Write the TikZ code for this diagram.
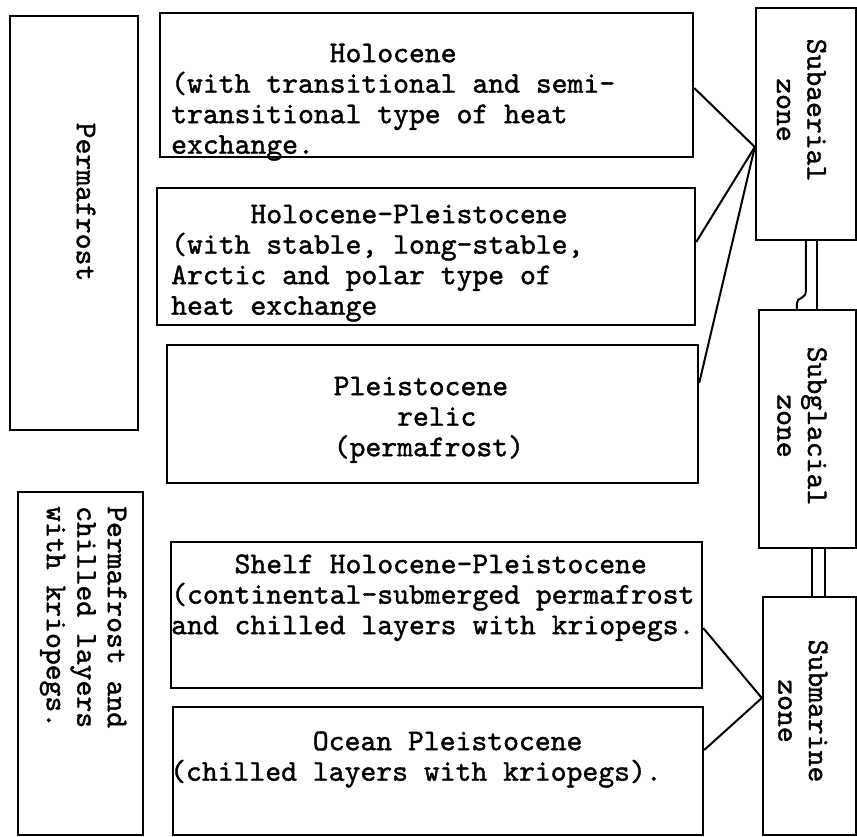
\documentclass[tikz,border=0pt]{standalone}
\usepackage{fontspec}
\newfontfamily\tw{lmmono10-regular.otf}[FakeBold=1.3]
\usetikzlibrary{calc}
\tikzset{
  box/.style={draw, line width=2.4pt, inner sep=0pt, fill=none},
  conn/.style={line width=2pt},
  txt/.style={inner sep=0pt, align=left, font=\fontsize{30.2}{30.5}\selectfont\tw},
  vtxt/.style={inner sep=0pt, rotate=-90, font=\fontsize{30.2}{30.5}\selectfont\tw},
}
\newcommand{\fl}{\rule{0pt}{24pt}}
\begin{document}
\begin{tikzpicture}[x=1pt, y=-1pt]
\useasboundingbox (0,0) rectangle (857,837);
\fill[white] (0,0) rectangle (857,837);

% left boxes
\node[box, minimum width=128pt, minimum height=414pt] (pf) at (74,223) {};
\node[box, minimum width=125pt, minimum height=343pt] (pc) at (80.5,663.5) {};
\node[vtxt] (pft) at (86,202) {Permafrost};
\node[vtxt, align=left, anchor=north west] (pct) at (132,506) {\fl Permafrost and\\chilled layers\\with kriopegs.};

% middle boxes
\node[box, minimum width=533pt, minimum height=144pt] (h) at (426.5,85) {};
\node[box, minimum width=538pt, minimum height=137pt] (hp) at (426,256.5) {};
\node[box, minimum width=531pt, minimum height=138pt] (p) at (432.5,414) {};
\node[box, minimum width=531pt, minimum height=146pt] (s) at (436.5,615) {};
\node[box, minimum width=530pt, minimum height=128pt] (o) at (438,771) {};

\node[txt, anchor=north west] (ht) at (171,38) {\fl\hspace*{5.25em}Holocene\\(with transitional and semi-\\transitional type of heat\\exchange.};
\node[txt, anchor=north west] (hpt) at (171,199) {\fl\hspace*{2.625em}Holocene-Pleistocene\\(with stable, long-stable,\\Arctic and polar type of\\heat exchange};
\node[txt, anchor=north west] (pt) at (175,371) {\fl\hspace*{5.25em}Pleistocene\\\hspace*{7.35em}relic\\\hspace*{5.25em}(permafrost)};
\node[txt, anchor=north west] (st) at (171,549) {\fl\hspace*{2.1em}Shelf Holocene-Pleistocene\\(continental-submerged permafrost\\and chilled layers with kriopegs.};
\node[txt, anchor=north west] (ot) at (170,726) {\fl\hspace*{4.725em}Ocean Pleistocene\\(chilled layers with kriopegs).};

% right boxes
\node[box, minimum width=100pt, minimum height=232pt] (sa) at (806,124) {};
\node[box, minimum width=97pt, minimum height=238pt] (sg) at (807.5,429) {};
\node[box, minimum width=93pt, minimum height=238pt] (sm) at (809.5,716) {};
\node[vtxt, align=center] (sat) at (801.5,110) {Subaerial\\zone};
\node[vtxt, align=center] (sgt) at (802,426) {Subglacial\\zone};
\node[vtxt, align=center] (smt) at (803,711) {Submarine\\zone};

% connector points
\coordinate (sain) at ($(sa.west)+(0,23)$);
\coordinate (hout) at ($(h.east)+(0,3)$);
\coordinate (hpout) at ($(hp.east)+(0,-14.5)$);
\coordinate (pout) at ($(p.east)+(0,-31)$);
\coordinate (smin) at ($(sm.west)+(0,-18)$);
\coordinate (sout) at ($(s.east)+(0,13)$);
\coordinate (oout) at ($(o.east)+(0,-21)$);

\draw[conn] (hout) -- (sain);
\draw[conn] (hpout) -- (sain);
\draw[conn] (pout) -- (sain);
\draw[conn] (sout) -- (smin);
\draw[conn] (oout) -- (smin);

% double links
\coordinate (j1) at ($(sa.south west)+(51,0)$);
\coordinate (j2) at ($(j1)+(0,50)$);
\coordinate (j3) at ($(j1)+(-9,62)$);
\coordinate (k1) at ($(sa.south west)+(62,0)$);
\draw[conn] (j1) -- (j2) .. controls ($(j2)+(0,8)$) and ($(j3)+(0,-6)$) .. (j3) -- (j3 |- sg.north);
\draw[conn] (k1) -- (k1 |- sg.north);
\coordinate (m1) at ($(sg.south west)+(54,0)$);
\coordinate (m2) at ($(sg.south west)+(67,0)$);
\draw[conn] (m1) -- (m1 |- sm.north);
\draw[conn] (m2) -- (m2 |- sm.north);
\end{tikzpicture}
\end{document}
